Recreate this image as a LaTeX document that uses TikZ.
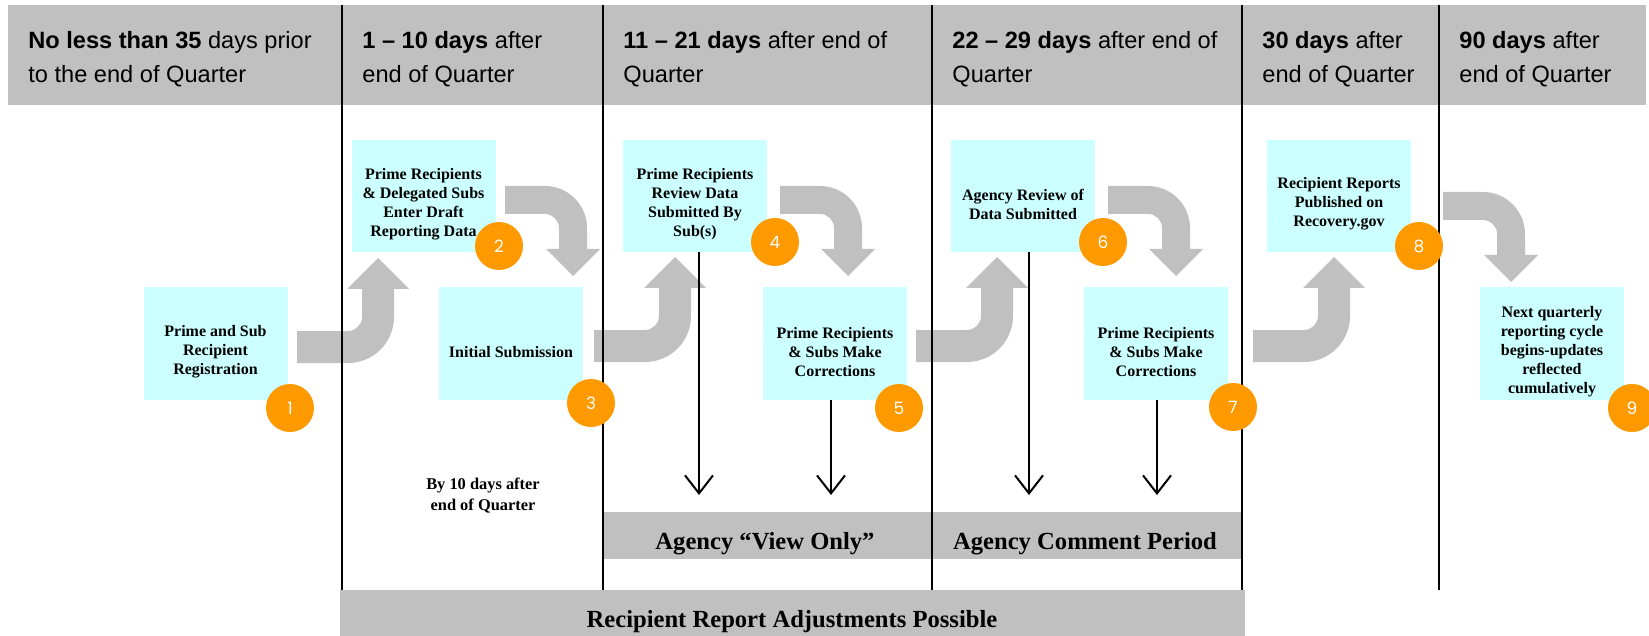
\documentclass[tikz,border=0pt]{standalone}
\usepackage{fontspec}
\setmainfont{Liberation Serif}
\newfontfamily\hdfont{Liberation Sans}
\newfontfamily\numfont{Poppins}
\usetikzlibrary{arrows.meta}
\definecolor{boxc}{HTML}{CCFFFF}
\definecolor{grayc}{HTML}{C0C0C0}
\definecolor{orng}{HTML}{FF9900}
\tikzset{
  stepbox/.style={fill=boxc, draw=none, inner sep=0, minimum width=72pt, minimum height=56pt},
  boxtxt/.style={font=\fontsize{8}{9.5}\selectfont\bfseries, align=center, inner sep=0},
  numc/.style={circle, fill=orng, minimum size=24pt, inner sep=0, text=white, font=\numfont\fontsize{8.5}{10}\selectfont},
  hd/.style={font=\hdfont\fontsize{11.8}{14}\selectfont, anchor=base west, inner sep=0},
  vline/.style={line width=1.4pt},
  blk/.style={line width=1pt, -{Straight Barb[length=9pt,width=14pt]}},
  bartxt/.style={font=\fontsize{12.3}{14}\selectfont\bfseries, inner sep=0, anchor=base},
  bybox/.style={font=\fontsize{8.2}{10.5}\selectfont\bfseries, align=center, inner sep=0},
}
\newcommand\bentup[2]{\fill[grayc, shift={(#1,#2)}] (0,0) -- (51,0) .. controls (58.7,0) and (65,-6.3) .. (65,-14) -- (65,-42) -- (50,-42) -- (81,-73) -- (112,-42) -- (97,-42) -- (97,-14) .. controls (97,11.4) and (76.4,32) .. (51,32) -- (0,32) -- cycle;}
\newcommand\bentdown[2]{\fill[grayc, shift={(#1,#2)}] (0,0) -- (40,0) .. controls (63.2,0) and (82,18.8) .. (82,42) -- (82,63) -- (95,63) -- (68,90) -- (41,63) -- (54,63) -- (54,42) .. controls (54,34.3) and (47.7,28) .. (40,28) -- (0,28) -- cycle;}
\newcommand\hdr[4]{\node[hd] (#1a) at (#2,49) {#3}; \node[hd] (#1b) at (#2,83) {#4};}
\begin{document}
\begin{tikzpicture}[x=0.5pt, y=-0.5pt]
\useasboundingbox (0,0) rectangle (1649,636);
% header band
\fill[grayc] (8,5) rectangle (1646,105);
% bars
\fill[grayc] (603,512) rectangle (932,559);
\fill[grayc] (932,512) rectangle (1243,559);
\fill[grayc] (340,590) rectangle (1245,636);
% big bent arrows
\bentup{297}{331}
\bentup{594}{330}
\bentup{916}{330}
\bentup{1253}{330}
\bentdown{505}{186}
\bentdown{780}{186}
\bentdown{1108}{186}
\bentdown{1443}{192}
% boxes
\node[stepbox] (b1) at (215.5,343.5) {};
\node[stepbox] (b2) at (423.5,196) {};
\node[stepbox] (b3) at (511,343.5) {};
\node[stepbox] (b4) at (695,196) {};
\node[stepbox] (b5) at (835,343.5) {};
\node[stepbox] (b6) at (1023,196) {};
\node[stepbox] (b7) at (1156,343.5) {};
\node[stepbox] (b8) at (1339,196) {};
\node[stepbox] (b9) at (1552,343.5) {};
% box texts
\node[boxtxt] (t1) at (215.5,352) {Prime and Sub\\Recipient\\Registration};
\node[boxtxt] (t2) at (423.5,204) {Prime Recipients\\\& Delegated Subs\\Enter Draft\\Reporting Data};
\node[boxtxt] (t3) at (511,352) {Initial Submission};
\node[boxtxt] (t4) at (695,204) {Prime Recipients\\Review Data\\Submitted By\\Sub(s)};
\node[boxtxt] (t5) at (835,352) {Prime Recipients\\\& Subs Make\\Corrections};
\node[boxtxt] (t6) at (1023,204) {Agency Review of\\Data Submitted};
\node[boxtxt] (t7) at (1156,352) {Prime Recipients\\\& Subs Make\\Corrections};
\node[boxtxt] (t8) at (1339,204) {Recipient Reports\\Published on\\Recovery.gov};
\node[boxtxt] (t9) at (1552,352) {Next quarterly\\reporting cycle\\begins-updates\\reflected\\cumulatively};
% black down arrows
\coordinate (e4) at (699,495);
\coordinate (e5) at (831,495);
\coordinate (e6) at (1029,495);
\coordinate (e7) at (1157,495);
\draw[blk] (b4.south -| e4) -- (e4);
\draw[blk] (b5.south -| e5) -- (e5);
\draw[blk] (b6.south -| e6) -- (e6);
\draw[blk] (b7.south -| e7) -- (e7);
% vertical lines
\draw[vline] (342,5) -- (342,590);
\draw[vline] (603,5) -- (603,590);
\draw[vline] (932,5) -- (932,590);
\draw[vline] (1242,5) -- (1242,590);
\draw[vline] (1439,5) -- (1439,590);
% header texts
\hdr{h1}{28}{\textbf{No less than 35} days prior}{to the end of Quarter}
\hdr{h2}{362}{\textbf{1 – 10 days} after}{end of Quarter}
\hdr{h3}{623}{\textbf{11 – 21 days} after end of}{Quarter}
\hdr{h4}{952}{\textbf{22 – 29 days} after end of}{Quarter}
\hdr{h5}{1262}{\textbf{30 days} after}{end of Quarter}
\hdr{h6}{1459}{\textbf{90 days} after}{end of Quarter}
% bar texts
\node[bartxt] (vo) at (765,549) {Agency “View Only”};
\node[bartxt] (cp) at (1085,549) {Agency Comment Period};
\node[bartxt] (ra) at (792,627) {Recipient Report Adjustments Possible};
\node[bybox] (by) at (483,496) {By 10 days after\\end of Quarter};
% numbered circles
\node[numc] (n1) at (290,408) {1};
\node[numc] (n2) at (499,246) {2};
\node[numc] (n3) at (591,403) {3};
\node[numc] (n4) at (775,242) {4};
\node[numc] (n5) at (899,408) {5};
\node[numc] (n6) at (1103,242) {6};
\node[numc] (n7) at (1233,407) {7};
\node[numc] (n8) at (1419,246) {8};
\node[numc] (n9) at (1632,408) {9};
\end{tikzpicture}
\end{document}
